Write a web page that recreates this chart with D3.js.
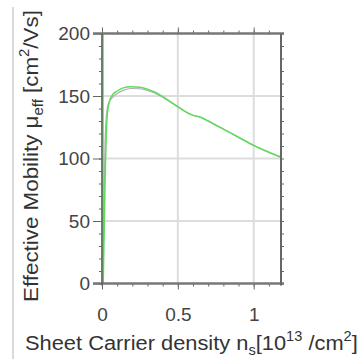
<!DOCTYPE html>
<html>
<head>
<meta charset="utf-8">
<script src="https://cdn.jsdelivr.net/npm/d3@7"></script>
<style>
  body { margin: 0; background: #fff; }
  text { font-family: "Liberation Sans", Arial, sans-serif; fill: #333; }
</style>
</head>
<body>
<div id="container"></div>
<script>
const WIDTH = 362,
  HEIGHT = 359;

// data
const ns = [0.008, 0.014, 0.02, 0.026, 0.032, 0.04, 0.05, 0.07, 0.1, 0.14, 0.19, 0.25, 0.3, 0.35, 0.4, 0.45, 0.5, 0.55, 0.6, 0.65, 0.7, 0.8, 0.9, 1.0, 1.1, 1.18];
const muSim = [0, 40, 80, 110, 130, 140, 146, 151, 154, 156.5, 157.5, 157, 155.5, 153, 149.5, 145.5, 141.5, 137.5, 134.5, 133, 130, 123.5, 117, 110.5, 105, 101];
const muMeas = [20, 75, 112, 130, 138, 143, 146, 149, 152, 154.5, 156, 155.8, 154.5, 152.2, 149, 145.2, 141.3, 137.4, 134.6, 133, 130, 123.5, 117, 110.5, 105, 101.2];
const edgeNs = [0.003, 0.003];
const edgeMu = [0, 200];
const xTicks = [0, 0.5, 1];
const xTickLabels = ["0", "0.5", "1"];
const yTicks = [0, 50, 100, 150, 200];

const svg = d3.select("#container")
  .append("svg")
  .attr("width", WIDTH)
  .attr("height", HEIGHT)

const xScale = d3.scaleLinear().domain([0, 1.18]).range([102, 281])
const yScale = d3.scaleLinear().domain([0, 200]).range([283.5, 33.5])

// frame line at the far left
svg.append("line")
  .attr("x1", 13).attr("x2", 13).attr("y1", 7).attr("y2", HEIGHT)
  .style("stroke", "#ccc").style("stroke-width", 1.5)

// grid
svg.selectAll(".ygrid")
  .data([50, 100, 150])
  .join("line")
  .attr("x1", xScale(0)).attr("x2", xScale(1.18))
  .attr("y1", d => yScale(d)).attr("y2", d => yScale(d))
  .style("stroke", "#ddd").style("stroke-width", 2)

svg.selectAll(".xgrid")
  .data([0.5, 1])
  .join("line")
  .attr("x1", d => xScale(d)).attr("x2", d => xScale(d))
  .attr("y1", yScale(0)).attr("y2", yScale(200))
  .style("stroke", "#ddd").style("stroke-width", 2)

// curves
svg.append("clipPath").attr("id", "plot")
  .append("rect")
  .attr("x", xScale(0) - 2).attr("y", yScale(200))
  .attr("width", xScale(1.18) - xScale(0) + 2).attr("height", yScale(0) - yScale(200))

const line = d3.line()
  .x(d => xScale(d[0]))
  .y(d => yScale(d[1]))
  .curve(d3.curveMonotoneX)

const g = svg.append("g").attr("clip-path", "url(#plot)")

g.append("path")
  .datum(ns.map((n, i) => [n, muMeas[i]]))
  .attr("d", line)
  .style("fill", "none").style("stroke", "#b0b0b0").style("stroke-width", 1.2)

g.append("path")
  .datum(ns.map((n, i) => [n, muSim[i]]))
  .attr("d", line)
  .style("fill", "none").style("stroke", "#5ddc5d").style("stroke-width", 1.5)

g.append("path")
  .datum(edgeNs.map((n, i) => [n, edgeMu[i]]))
  .attr("d", d3.line().x(d => xScale(d[0])).y(d => yScale(d[1])))
  .style("fill", "none").style("stroke", "#4fd84f").style("stroke-width", 2.5)

// axes
svg.append("g")
  .attr("transform", `translate(0, ${yScale(0)})`)
  .call(d3.axisBottom(xScale).tickValues(d3.range(0, 1.19, 0.1)).tickSize(3).tickFormat(""))
const bottomMajor = svg.append("g")
  .attr("transform", `translate(0, ${yScale(0)})`)
  .call(d3.axisBottom(xScale).tickValues(xTicks).tickSize(6).tickPadding(18)
    .tickFormat((d, i) => xTickLabels[i]))
bottomMajor.selectAll("text").style("font-size", "19px").style("fill", "#444")

svg.append("g")
  .attr("transform", `translate(0, ${yScale(200)})`)
  .call(d3.axisTop(xScale).tickValues(d3.range(0, 1.19, 0.1)).tickSize(3).tickFormat(""))
svg.append("g")
  .attr("transform", `translate(0, ${yScale(200)})`)
  .call(d3.axisTop(xScale).tickValues(xTicks).tickSize(6).tickFormat(""))

svg.append("g")
  .attr("transform", `translate(${xScale(0)}, 0)`)
  .call(d3.axisLeft(yScale).tickValues(d3.range(0, 201, 10)).tickSize(3).tickFormat(""))
const leftAxis = svg.append("g")
  .attr("transform", `translate(${xScale(0)}, 0)`)
  .call(d3.axisLeft(yScale).tickValues(yTicks).tickSize(9).tickPadding(3))
leftAxis.selectAll("text").style("font-size", "19px").style("fill", "#444")

svg.append("g")
  .attr("transform", `translate(${xScale(1.18)}, 0)`)
  .call(d3.axisRight(yScale).tickValues(d3.range(0, 201, 10)).tickSize(3).tickFormat(""))

svg.selectAll(".tick line").style("stroke", "#666")
svg.selectAll(".domain").remove()

// frame
svg.append("line")
  .attr("x1", 93).attr("x2", xScale(1.18) + 3)
  .attr("y1", yScale(0)).attr("y2", yScale(0))
  .style("stroke", "#777").style("stroke-width", 2.5)
svg.append("line")
  .attr("x1", 93).attr("x2", xScale(1.18) + 3)
  .attr("y1", yScale(200)).attr("y2", yScale(200))
  .style("stroke", "#777").style("stroke-width", 2.5)
svg.append("line")
  .attr("x1", xScale(1.18)).attr("x2", xScale(1.18))
  .attr("y1", yScale(200)).attr("y2", yScale(0) + 2)
  .style("stroke", "#666").style("stroke-width", 2)
svg.append("line")
  .attr("x1", xScale(0)).attr("x2", xScale(0))
  .attr("y1", yScale(200)).attr("y2", yScale(0) + 2)
  .style("stroke", "#666").style("stroke-width", 1.5)

// titles, stretched to the length seen in the picture
function fit(sel, length) {
  const w = sel.node().getBBox().width
  sel.attr("transform", (sel.attr("transform") || "") + ` scale(${length / w}, 1)`)
}

const xTitle = svg.append("text")
  .attr("transform", "translate(25, 350)")
  .style("font-size", "21px")
xTitle.append("tspan").text("Sheet Carrier density n")
xTitle.append("tspan").attr("dy", 5).style("font-size", "14px").text("s")
xTitle.append("tspan").attr("dy", -5).text("[10")
xTitle.append("tspan").attr("dy", -9).style("font-size", "14px").text("13")
xTitle.append("tspan").attr("dy", 9).text(" /cm")
xTitle.append("tspan").attr("dy", -9).style("font-size", "14px").text("2")
xTitle.append("tspan").attr("dy", 9).text("]")
fit(xTitle, 333)

const yTitle = svg.append("text")
  .attr("transform", "translate(38, 302) rotate(-90)")
  .style("font-size", "21px")
yTitle.append("tspan").text("Effective Mobility μ")
yTitle.append("tspan").attr("dy", 5).style("font-size", "14px").text("eff")
yTitle.append("tspan").attr("dy", -5).text(" [cm")
yTitle.append("tspan").attr("dy", -9).style("font-size", "14px").text("2")
yTitle.append("tspan").attr("dy", 9).text("/Vs]")
fit(yTitle, 292)
</script>
</body>
</html>
